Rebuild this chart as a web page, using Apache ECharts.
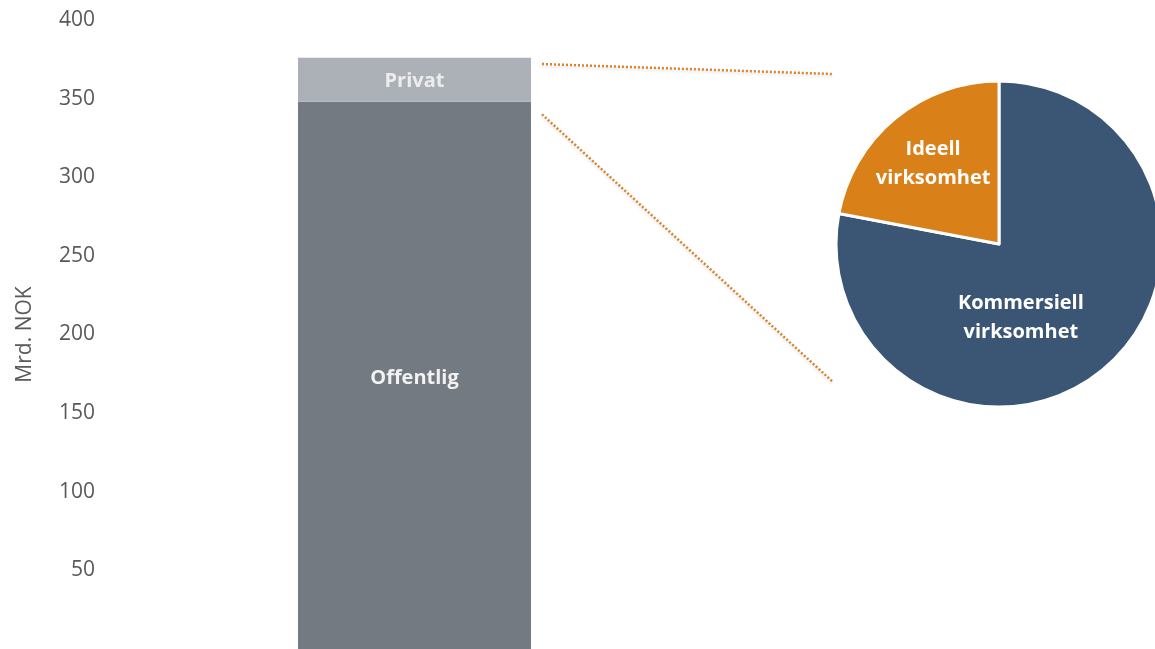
<!DOCTYPE html>
<html>
<head>
<meta charset="utf-8">
<script src="https://cdn.jsdelivr.net/npm/echarts@6/dist/echarts.min.js"></script>
<style>
  html, body { margin: 0; padding: 0; background: #fff; }
  #chart { width: 1155px; height: 649px; }
</style>
</head>
<body>
<div id="chart"></div>
<script>
// Stacked bar: total in Mrd. NOK split by sector
const categories = ['Total'];
const offentlig = [348];
const privat = [28];
// Breakdown of the private share
const pieNames = ['Kommersiell\nvirksomhet', 'Ideell\nvirksomhet'];
const pieValues = [78, 22];
const yTicks = { min: 0, max: 400, interval: 50 };

const chart = echarts.init(document.getElementById('chart'), null, { renderer: 'canvas' });
const FONT = 'Open Sans';
const pieCenter = [999, 244];
const pieRadius = 163;

chart.setOption({
  animation: false,
  textStyle: { fontFamily: FONT },
  grid: { left: 110, right: 436, top: 20, bottom: 0, containLabel: false },
  xAxis: {
    type: 'category',
    data: categories,
    axisLine: { show: false },
    axisTick: { show: false },
    axisLabel: { show: false }
  },
  yAxis: {
    type: 'value',
    min: yTicks.min,
    max: yTicks.max,
    interval: yTicks.interval,
    name: 'Mrd. NOK',
    nameLocation: 'middle',
    nameGap: 74,
    nameRotate: 90,
    nameTextStyle: { color: '#595959', fontSize: 21, fontFamily: FONT },
    axisLine: { show: false },
    axisTick: { show: false },
    splitLine: { show: false },
    axisLabel: {
      color: '#595959',
      fontSize: 21,
      fontFamily: FONT,
      margin: 15,
      formatter: v => (v === 0 ? '' : String(v))
    }
  },
  series: [
    {
      name: 'Offentlig',
      type: 'bar',
      stack: 'total',
      data: offentlig,
      barWidth: 233,
      itemStyle: { color: '#737A82' },
      label: {
        show: true, position: 'inside', formatter: 'Offentlig', offset: [0, 3],
        color: '#F2F2F2', fontSize: 20, fontWeight: 'bold', fontFamily: FONT
      }
    },
    {
      name: 'Privat',
      type: 'bar',
      stack: 'total',
      data: privat,
      barWidth: 233,
      itemStyle: { color: '#ABB1B7' },
      label: {
        show: true, position: 'inside', formatter: 'Privat', offset: [0, 2],
        color: '#EDEDED', fontSize: 20, fontWeight: 'bold', fontFamily: FONT
      }
    },
    {
      name: 'Privat fordeling',
      type: 'pie',
      center: pieCenter,
      radius: pieRadius,
      startAngle: 90,
      clockwise: true,
      itemStyle: { borderColor: '#ffffff', borderWidth: 3 },
      label: {
        show: true, position: 'inside', color: '#ffffff',
        fontSize: 20, fontWeight: 'bold', fontFamily: FONT, lineHeight: 29,
        formatter: '{b}'
      },
      labelLine: { show: false },
      data: [
        { name: pieNames[0], value: pieValues[0], itemStyle: { color: '#3A5674' }, label: { offset: [-32, 9] } },
        { name: pieNames[1], value: pieValues[1], itemStyle: { color: '#D98019' }, label: { offset: [-12, -15] } }
      ]
    }
  ]
});

// Dotted connectors from the private segment to the pie
const barRight = chart.convertToPixel({ gridIndex: 0 }, [0, 0])[0] + 233 / 2;
const yTop = chart.convertToPixel({ yAxisIndex: 0 }, offentlig[0] + privat[0] - 4);
const yBottom = chart.convertToPixel({ yAxisIndex: 0 }, offentlig[0] - 8);
const endX = pieCenter[0] - pieRadius - 3;
const lineStyle = {
  stroke: '#D9822B', lineWidth: 2.5, lineDash: [2, 2],
  shadowBlur: 3, shadowColor: 'rgba(0,0,0,0.15)', shadowOffsetY: 2
};
chart.setOption({
  graphic: [
    { type: 'line', z: 10, shape: { x1: barRight + 11, y1: yTop, x2: endX, y2: pieCenter[1] - 170 }, style: lineStyle },
    { type: 'line', z: 10, shape: { x1: barRight + 11, y1: yBottom, x2: endX, y2: pieCenter[1] + 138 }, style: lineStyle }
  ]
});
</script>
</body>
</html>
